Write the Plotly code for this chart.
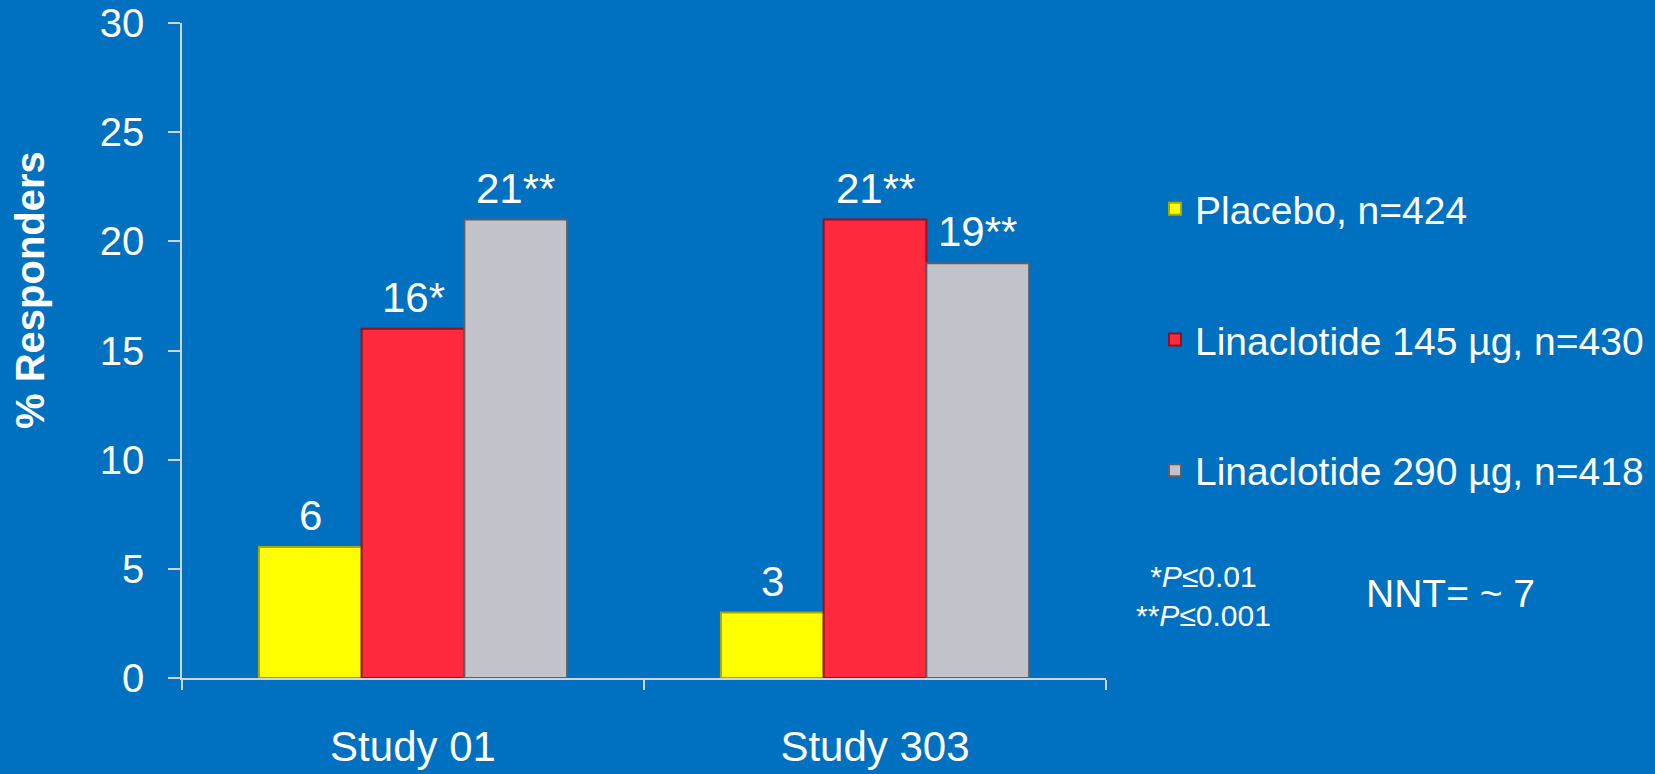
import plotly.graph_objects as go

# Data
studies = ["Study 01", "Study 303"]
series_names = ["Placebo, n=424", "Linaclotide 145 µg, n=430", "Linaclotide 290 µg, n=418"]
placebo = [6, 3]
lin145 = [16, 21]
lin290 = [21, 19]
placebo_labels = ["6", "3"]
lin145_labels = ["16*", "21**"]
lin290_labels = ["21**", "19**"]
y_ticks = [0, 5, 10, 15, 20, 25, 30]

BG = "#0070C0"
FONT = "Liberation Sans, Arial, sans-serif"
AXIS = "#D0D4DC"

colors = ["#FFFF00", "#FF2A3D", "#C3C3CB"]
edges = ["#A8A800", "#9A0E1C", "#5E5E66"]
values = [placebo, lin145, lin290]
labels = [placebo_labels, lin145_labels, lin290_labels]

# Plot-area geometry (pixels)
W, H = 1655, 774
L, R, T, B = 182, 549, 23, 96
plot_w = W - L - R
plot_h = H - T - B
BARGAP = 0.333
bar_px = plot_w / len(studies) * (1 - BARGAP) / 3

fig = go.Figure()
for i in range(3):
    fig.add_trace(go.Bar(
        x=studies, y=values[i], name=series_names[i],
        marker=dict(color=colors[i], line=dict(color=edges[i], width=2)),
        legendgroup=f"g{i}",
    ))
    # value labels above each bar
    for s, v, t in zip(studies, values[i], labels[i]):
        fig.add_annotation(
            x=s, y=v, xref="x", yref="y", text=t, showarrow=False,
            xanchor="center", yanchor="bottom",
            xshift=(i - 1) * bar_px, yshift=6,
            font=dict(size=42, color="white", family=FONT),
        )

fig.update_layout(
    width=W, height=H,
    paper_bgcolor=BG, plot_bgcolor=BG,
    margin=dict(l=L, r=R, t=T, b=B, autoexpand=False),
    barmode="group", bargap=BARGAP, bargroupgap=0,
    font=dict(family=FONT, color="white"),
    showlegend=True,
    legend=dict(
        xref="container", yref="container", x=1155 / W, y=1 - 177 / H,
        xanchor="left", yanchor="top",
        font=dict(size=39, color="white", family=FONT),
        bgcolor="rgba(0,0,0,0)", tracegroupgap=77, itemsizing="constant",
    ),
)

fig.update_yaxes(
    range=[0, 30], tickvals=y_ticks, showgrid=False, zeroline=False,
    showline=True, linecolor=AXIS, linewidth=1.5, automargin=False,
    ticks="outside", ticklen=12, tickcolor=AXIS, tickwidth=1.5,
    ticklabeloverflow="allow",
    tickfont=dict(size=40, color="white", family=FONT), ticklabelstandoff=16,
)
fig.update_xaxes(
    showgrid=False, showline=True, linecolor=AXIS, linewidth=1.5, automargin=False,
    ticks="outside", ticklen=10, tickcolor=AXIS, tickwidth=1.5,
    tickson="boundaries", ticklabeloverflow="allow",
    tickfont=dict(size=42, color="white", family=FONT), ticklabelstandoff=31,
)

# Axis title
fig.add_annotation(
    text="<b>% Responders</b>", xref="paper", yref="paper",
    x=(30 - L) / plot_w, y=(H - B - 290) / plot_h, xanchor="center", yanchor="middle",
    textangle=-90, showarrow=False,
    font=dict(size=40, color="white", family=FONT),
)
# Significance footnotes
fig.add_annotation(
    text="*<i>P</i>≤0.01<br>**<i>P</i>≤0.001", xref="paper", yref="paper",
    xanchor="center", yanchor="middle", align="center",
    x=(1203 - L) / plot_w, y=(H - B - 596) / plot_h, showarrow=False,
    font=dict(size=30, color="white", family=FONT),
)
fig.add_annotation(
    text="NNT= ~ 7", xref="paper", yref="paper",
    xanchor="center", yanchor="middle",
    x=(1450 - L) / plot_w, y=(H - B - 593) / plot_h, showarrow=False,
    font=dict(size=39, color="white", family=FONT),
)

fig.write_html("out.html")
